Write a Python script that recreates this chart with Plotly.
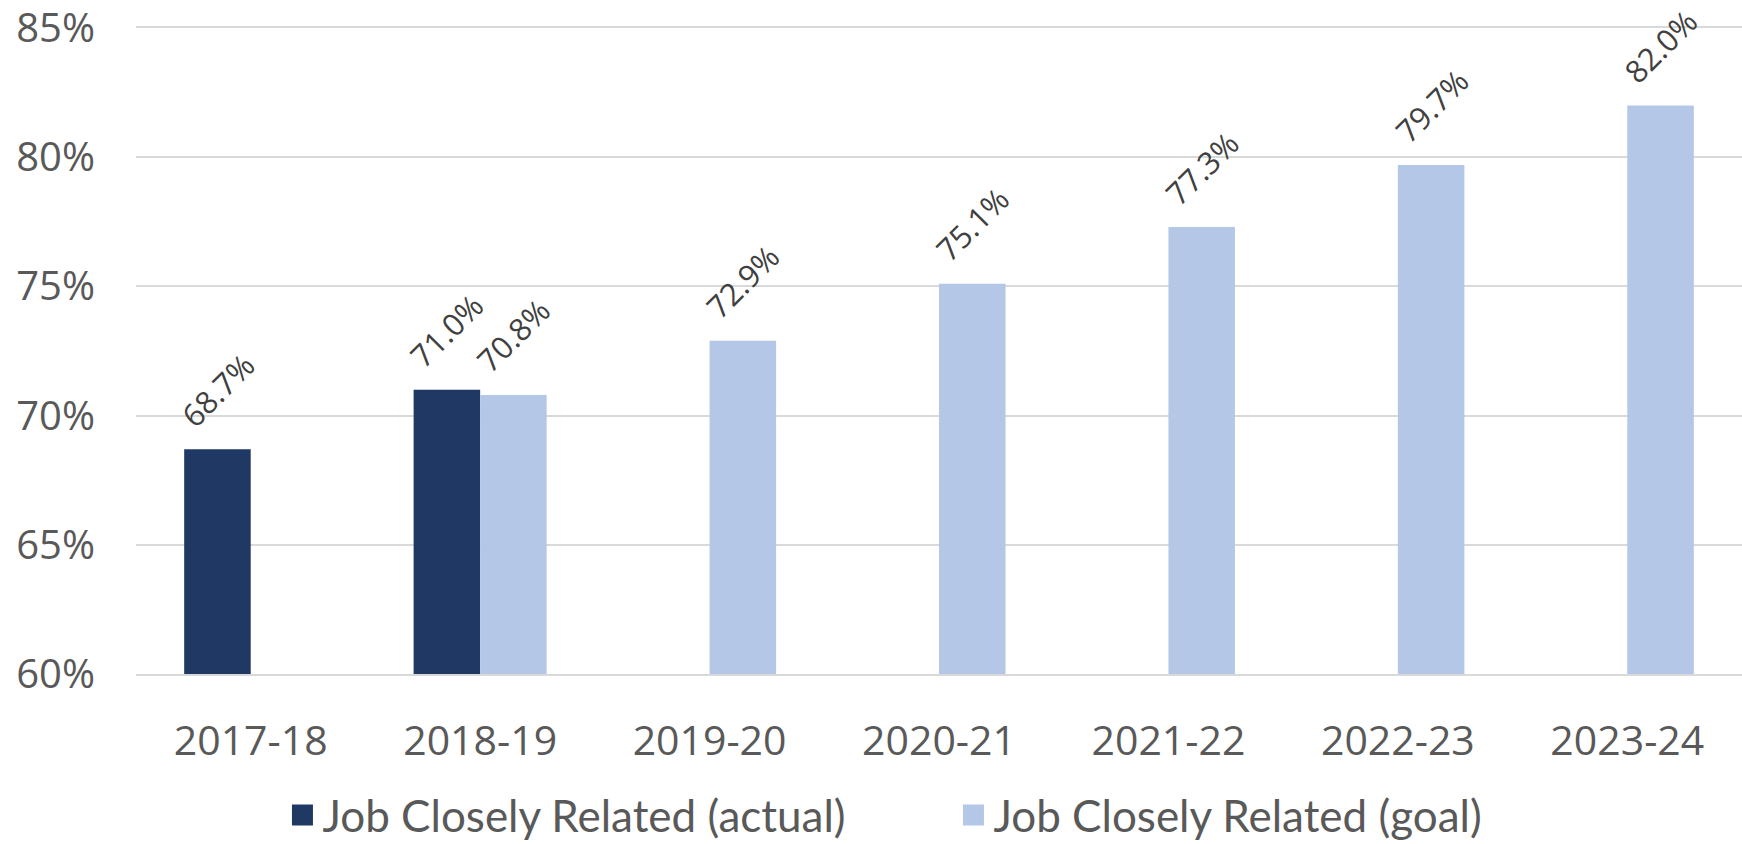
import plotly.graph_objects as go

categories = ["2017-18", "2018-19", "2019-20", "2020-21", "2021-22", "2022-23", "2023-24"]
actual = [68.7, 71.0, None, None, None, None, None]
goal = [None, 70.8, 72.9, 75.1, 77.3, 79.7, 82.0]
series_names = ["Job Closely Related (actual)", "Job Closely Related (goal)"]
y_ticks = [60, 65, 70, 75, 80, 85]
y_tick_text = ["60%", "65%", "70%", "75%", "80%", "85%"]

DARK = "#203864"
LIGHT = "#B4C7E7"
GRID = "#D9D9D9"
BARGAP = 0.42
LABEL_FONT = dict(family="Open Sans", size=31, color="#404040")

fig = go.Figure()
series = [(series_names[0], actual, DARK), (series_names[1], goal, LIGHT)]
n_series = len(series)
bar_w = (1 - BARGAP) / n_series
for s_idx, (name, vals, col) in enumerate(series):
    fig.add_trace(go.Bar(
        x=categories, y=vals, name=name, marker=dict(color=col, line=dict(width=0)),
        showlegend=False, hoverinfo="x+y",
    ))
    # legend proxy
    fig.add_trace(go.Scatter(
        x=[None], y=[None], mode="markers", name=name,
        marker=dict(symbol="square", size=26, color=col, line=dict(color=col, width=5)),
        showlegend=True,
    ))
    # data labels above each bar (category index + group offset)
    offset = (s_idx - (n_series - 1) / 2) * bar_w
    for i, v in enumerate(vals):
        if v is None:
            continue
        fig.add_annotation(
            x=i + offset, y=v, xref="x", yref="y",
            text=f"{v:.1f}%", showarrow=False, textangle=-45,
            xanchor="center", yanchor="bottom", yshift=11,
            font=LABEL_FONT,
        )

fig.update_layout(
    width=1742, height=844,
    margin=dict(l=136, r=0, t=28, b=170, autoexpand=False),
    paper_bgcolor="white", plot_bgcolor="white",
    barmode="group", bargap=BARGAP, bargroupgap=0,
    font=dict(family="Open Sans", color="#595959"),
    yaxis=dict(range=[60, 85], tickmode="array", tickvals=y_ticks, ticktext=y_tick_text,
               gridcolor=GRID, gridwidth=2, zeroline=False, automargin=False,
               tickfont=dict(family="Open Sans", size=40, color="#595959"),
               ticklabelstandoff=40, ticklabeloverflow="allow", showline=False),
    xaxis=dict(tickfont=dict(family="Open Sans", size=41, color="#595959"),
               showline=True, mirror=True, linecolor=GRID, linewidth=2, automargin=False,
               ticklabelstandoff=30, showgrid=False),
    legend=dict(orientation="h", x=0.509, xanchor="center", y=-0.219, yanchor="middle",
                font=dict(family="Lato", size=44, color="#595959"),
                entrywidth=626, entrywidthmode="pixels",
                itemsizing="trace", bgcolor="rgba(0,0,0,0)"),
)

fig.write_html("out.html")
